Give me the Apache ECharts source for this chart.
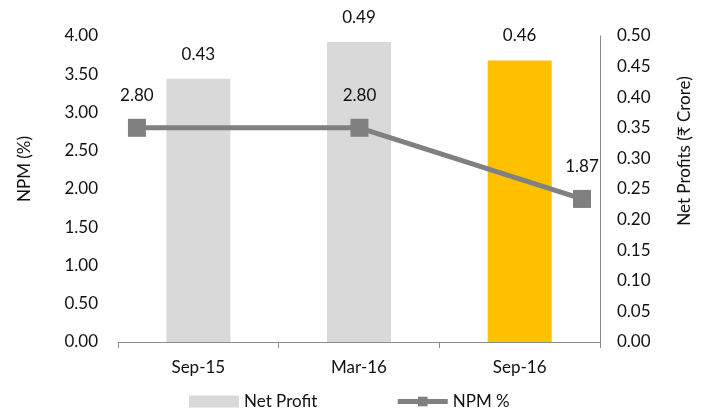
<!DOCTYPE html>
<html>
<head>
<meta charset="utf-8">
<script src="https://cdn.jsdelivr.net/npm/echarts@6/dist/echarts.min.js"></script>
<style>
  html, body { margin: 0; padding: 0; background: #fff; }
  #npmChart { width: 705px; height: 410px; }
</style>
</head>
<body>
<div id="npmChart"></div>
<script>
  // chart data
  const categories = ['Sep-15', 'Mar-16', 'Sep-16'];
  const netProfit = [0.43, 0.49, 0.46];
  const npm = [2.80, 2.80, 1.87];
  const leftTicks = { min: 0, max: 4, interval: 0.5 };
  const rightTicks = { min: 0, max: 0.5, interval: 0.05 };
  const highlightIndex = 2;

  const font = 'Lato, "Noto Sans", sans-serif';
  const fs = 17;
  const textColor = '#111';
  const axisGray = '#8c8c8c';
  const lineGray = '#808080';

  const myChart = echarts.init(document.getElementById('npmChart'));

  const option = {
    animation: false,
    textStyle: { fontFamily: font, fontSize: fs, color: textColor },
    grid: { left: 118, right: 105, top: 36, bottom: 68 },
    legend: {
      left: 184,
      top: 388,
      itemWidth: 50,
      itemHeight: 12,
      itemGap: 78,
      textStyle: { fontFamily: font, fontSize: fs, color: textColor },
      data: [
        { name: 'Net Profit', icon: 'rect' },
        { name: 'NPM %', lineStyle: { width: 5, color: lineGray }, itemStyle: { color: lineGray } }
      ]
    },
    xAxis: [{
        type: 'category',
        data: categories,
        axisLine: { lineStyle: { color: axisGray, width: 1 } },
        axisTick: { show: true, length: 6, lineStyle: { color: axisGray } },
        axisLabel: { margin: 17, fontSize: fs, color: textColor, fontFamily: font }
      },
      {
        // hidden axis so the line points sit like the original
        type: 'value',
        min: -0.085,
        max: 2.081,
        show: false
      }
    ],
    yAxis: [{
        type: 'value',
        min: leftTicks.min,
        max: leftTicks.max,
        interval: leftTicks.interval,
        axisLine: { show: false },
        axisTick: { show: false },
        splitLine: { show: false },
        axisLabel: {
          margin: 20,
          fontSize: fs,
          color: textColor,
          fontFamily: font,
          formatter: v => v.toFixed(2)
        }
      },
      {
        type: 'value',
        position: 'right',
        min: rightTicks.min,
        max: rightTicks.max,
        interval: rightTicks.interval,
        axisLine: { show: true, lineStyle: { color: axisGray, width: 1 } },
        axisTick: { show: false },
        splitLine: { show: false },
        axisLabel: {
          margin: 17,
          fontSize: fs,
          color: textColor,
          fontFamily: font,
          formatter: v => v.toFixed(2)
        }
      }
    ],
    graphic: [{
        type: 'text',
        x: 25,
        y: 169,
        rotation: Math.PI / 2,
        style: {
          text: 'NPM (%)',
          fontFamily: font,
          fontSize: fs,
          fill: textColor,
          align: 'center',
          verticalAlign: 'middle'
        }
      },
      {
        type: 'text',
        x: 685,
        y: 151,
        rotation: Math.PI / 2,
        style: {
          text: 'Net Profits (₹ Crore)',
          fontFamily: font,
          fontSize: fs,
          fill: textColor,
          align: 'center',
          verticalAlign: 'middle'
        }
      }
    ],
    series: [{
        name: 'Net Profit',
        type: 'bar',
        xAxisIndex: 0,
        yAxisIndex: 1,
        barWidth: 64,
        itemStyle: { color: '#D9D9D9' },
        label: {
          show: true,
          position: 'top',
          distance: 16,
          fontSize: fs,
          color: textColor,
          fontFamily: font,
          formatter: p => p.value.toFixed(2)
        },
        data: netProfit.map((v, i) => i === highlightIndex ? { value: v, itemStyle: { color: '#FFC000' } } : v)
      },
      {
        name: 'NPM %',
        type: 'line',
        xAxisIndex: 1,
        yAxisIndex: 0,
        symbol: 'rect',
        symbolSize: 18,
        z: 5,
        lineStyle: { color: lineGray, width: 5 },
        itemStyle: { color: lineGray },
        label: {
          show: true,
          position: 'top',
          distance: 15,
          fontSize: fs,
          color: textColor,
          fontFamily: font,
          formatter: p => p.value[1].toFixed(2)
        },
        data: npm.map((v, i) => [i, v])
      }
    ]
  };

  myChart.setOption(option);
</script>
</body>
</html>
